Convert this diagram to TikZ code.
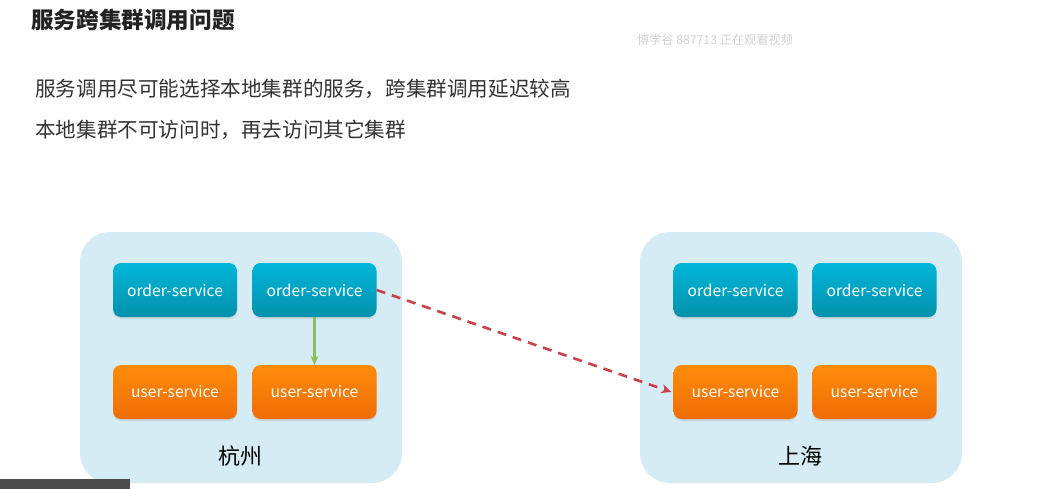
\documentclass[tikz,border=0pt]{standalone}
\usepackage{fontspec}
\setmainfont{Noto Sans CJK SC}
\usetikzlibrary{shadows,arrows.meta}
\definecolor{clusterbg}{HTML}{D6ECF5}
\definecolor{ordertop}{HTML}{00B6D9}
\definecolor{orderbot}{HTML}{0491AC}
\definecolor{usertop}{HTML}{FF8C0A}
\definecolor{userbot}{HTML}{EE6D06}
\definecolor{greenarrow}{HTML}{8CBF5C}
\definecolor{redarrow}{HTML}{C8414C}
\definecolor{titlecol}{HTML}{222222}
\definecolor{bodycol}{HTML}{333333}
\definecolor{wmcol}{HTML}{D2D2D2}
\begin{document}
\begin{tikzpicture}[x=1pt,y=-1pt,
  cluster/.style={fill=clusterbg, rounded corners=30pt, draw=none},
  svc/.style={rounded corners=8pt, minimum width=124pt, minimum height=54pt, inner sep=0pt,
    text=white, font=\fontsize{15.6}{18}\selectfont,
    drop shadow={opacity=0.18, shadow xshift=0pt, shadow yshift=-2pt}},
  ordersvc/.style={svc, top color=ordertop, bottom color=orderbot},
  usersvc/.style={svc, top color=usertop, bottom color=userbot},
  txt/.style={inner sep=0pt, anchor=west, text=bodycol, font=\fontsize{20.6}{24}\selectfont},
  city/.style={inner sep=0pt, text=black, font=\fontsize{22}{26}\selectfont},
  localcall/.style={draw=greenarrow, line width=2.6pt, -{Stealth[length=9pt,width=8pt]}},
  remotecall/.style={draw=redarrow, line width=2.6pt, dash pattern=on 9pt off 7pt, -{Stealth[length=10pt,width=9pt]}}
]
\useasboundingbox (0,0) rectangle (1059,489);
\fill[white] (0,0) rectangle (1059,489);

% headings
\node[inner sep=0pt, anchor=west, text=titlecol, font=\fontsize{22.6}{26}\selectfont\bfseries] (title) at (31,20) {服务跨集群调用问题};
\node[inner sep=0pt, text=wmcol, font=\fontsize{12.2}{14}\selectfont] (wm) at (715,40) {博学谷 887713 正在观看视频};
\node[txt] (l1) at (35,89) {服务调用尽可能选择本地集群的服务，跨集群调用延迟较高};
\node[txt] (l2) at (35,130) {本地集群不可访问时，再去访问其它集群};

% clusters
\fill[cluster] (80,232) rectangle (402,483);
\fill[cluster] (640,232) rectangle (962,483);

% services
\node[ordersvc] (oL1) at (175,290) {order-service};
\node[ordersvc] (oL2) at (314.5,290) {order-service};
\node[usersvc] (uL1) at (175,392) {user-service};
\node[usersvc] (uL2) at (314.5,392) {user-service};
\node[ordersvc] (oR1) at (735.5,290) {order-service};
\node[ordersvc] (oR2) at (874.5,290) {order-service};
\node[usersvc] (uR1) at (735.5,392) {user-service};
\node[usersvc] (uR2) at (874.5,392) {user-service};

\node[city] (hz) at (240,456) {杭州};
\node[city] (sh) at (800,456) {上海};

% calls
\draw[localcall] (oL2.south) -- (uL2.north);
\draw[remotecall] (oL2.east) -- ([xshift=-2pt]uR1.west);

% overlay bar
\fill[black!70] (0,479) rectangle (130,489);
\end{tikzpicture}
\end{document}
